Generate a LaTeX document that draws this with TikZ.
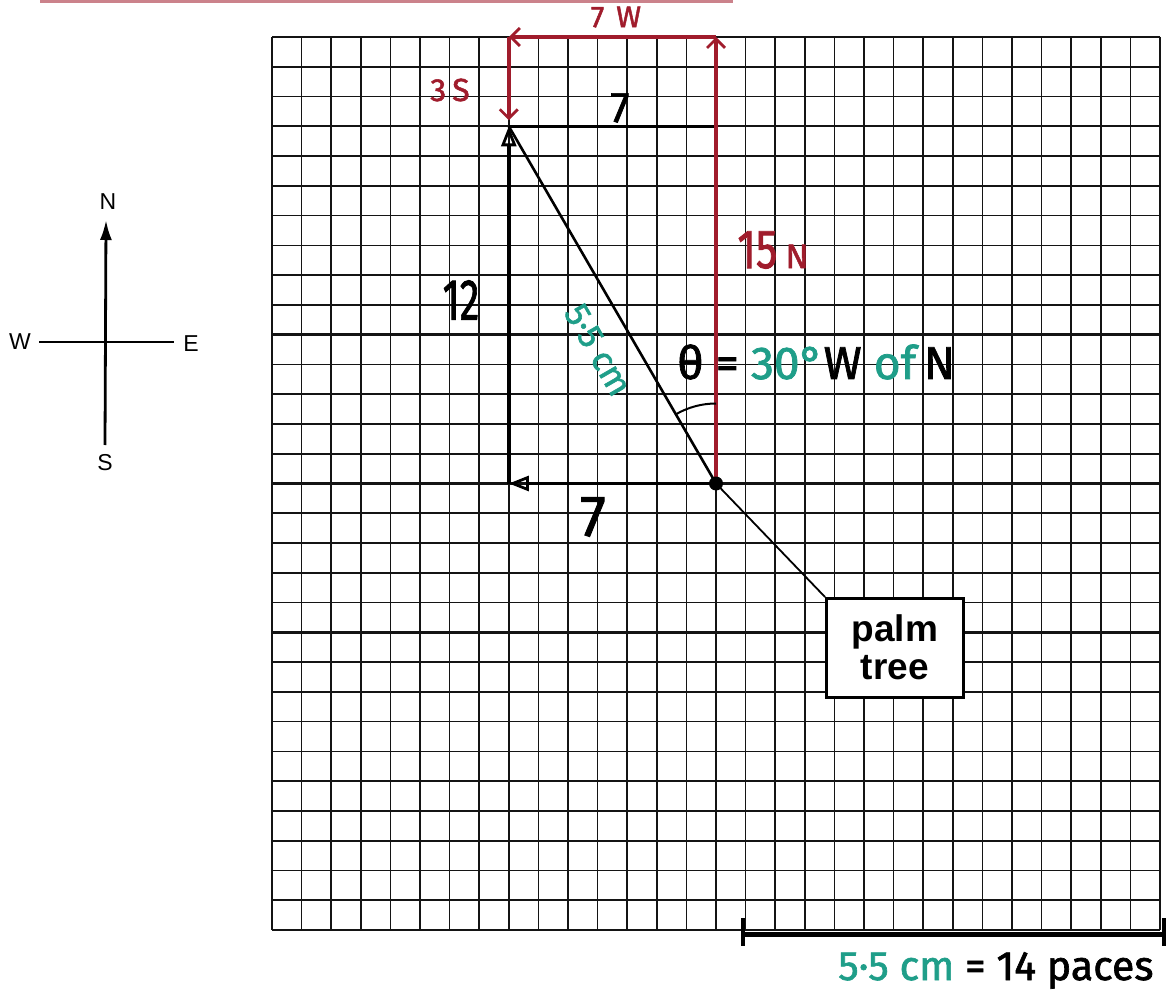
\documentclass[tikz,border=0pt]{standalone}
\usepackage{fontspec}
\usepackage{graphicx}
\setmainfont{Liberation Sans}
\newfontfamily\handfont[FakeBold=1.6]{Fira Sans}
\usetikzlibrary{arrows.meta}
\definecolor{pen}{HTML}{A01C2C}
\definecolor{tealpen}{HTML}{1F9E89}
\definecolor{gridc}{HTML}{141414}
\newcommand{\hw}[2]{{\handfont\fontsize{#1}{#1}\selectfont #2}}
\tikzset{
  gridminor/.style={gridc, line width=1.6},
  gridmajor/.style={gridc, line width=2.4},
  redvec/.style={pen, line width=3.5, -{Straight Barb[length=9pt,width=18pt,line width=2.8pt]}},
  blackvec/.style={black, line width=3.5, -{Triangle[open,length=20pt,width=15pt,line width=2.8pt]}},
  compassline/.style={black, line width=2.8},
  compasslabel/.style={font=\fontsize{23}{23}\selectfont, inner sep=0pt},
  handlabel/.style={inner sep=0pt},
}
\begin{document}
\begin{tikzpicture}[x=1pt,y=-1pt]
\useasboundingbox (0,0) rectangle (1168,995);
\fill[white] (0,0) rectangle (1168,995);

% cut-off red underline at the very top
\coordinate (u1) at (40,1.5);
\coordinate (u2) at (733,1.5);
\draw[pen!55, line width=2.5] (u1) -- (u2);

% grid 30 x 30
\foreach \i in {0,...,30}{
  \pgfmathsetmacro\xx{272+29.6*\i}
  \draw[gridminor] (\xx,37) -- (\xx,930);
  \pgfmathsetmacro\yy{930-29.7667*\i}
  \draw[gridminor] (272,\yy) -- (1160,\yy);
}
\foreach \i in {0,5,...,30}{
  \pgfmathsetmacro\xx{272+29.6*\i}
  \draw[gridmajor] (\xx,37) -- (\xx,930);
  \pgfmathsetmacro\yy{930-29.7667*\i}
  \draw[gridmajor] (272,\yy) -- (1160,\yy);
}

% key points
\coordinate (P) at (716,483.5);
\coordinate (T) at (716,37);
\coordinate (A) at (508.8,37);
\coordinate (B) at (508.8,126.3);
\coordinate (Bq) at (716,126.3);
\coordinate (C) at (508.8,483.5);

% black construction
\draw[black, line width=2.6] (B) -- (Bq);
\draw[blackvec] (P) -- (C);
\draw[blackvec] (C) -- (B);
\draw[black, line width=2.6] (P) -- (B);

% red path
\draw[redvec] (P) -- (T);
\draw[redvec] (T) -- (A);
\draw[redvec] (A) -- ([shift={(0,-6)}]B);

% angle arc
\draw[black, line width=2] ([shift={(0,-80)}]P) arc[start angle=-90, end angle=-120, radius=80];

% palm tree point and box
\fill[black] (P) circle (7);
\node[draw, line width=2.5, fill=white, font=\bfseries\fontsize{37}{38}\selectfont,
      align=center, minimum width=137, minimum height=99, anchor=north west, inner sep=0pt]
      (box) at (825,597) {palm\\tree};
\draw[black, line width=1.8] (P) -- (box.north west);

% labels
\node[handlabel, text=pen] (l7w) at (616,17) {\hw{30}{7\hspace{12pt}W}};
\node[handlabel, text=pen] (l3s) at (450,90) {\hw{32}{3\hspace{6pt}S}};
\node[handlabel] (l7a) at (620,108) {\hw{43}{7}};
\node[handlabel, text=pen] (l15n) at (773,250) {\hw{55}{\scalebox{0.78}[1]{15}}\hspace{8pt}\hw{34}{N}};
\node[handlabel] (l12) at (461,300) {\hw{58}{\scalebox{0.68}[1]{12}}};
\node[handlabel, text=tealpen, rotate=-60] (l55) at (598,350) {\hw{35}{5·5 cm}};
\node[handlabel, anchor=west] (ltheta) at (677,362)
  {\hw{46}{θ = \textcolor{tealpen}{30°}W \textcolor{tealpen}{of}\,N}};
\node[handlabel] (l7b) at (593,517) {\hw{58}{7}};

% compass
\coordinate (cN) at (106,220);
\coordinate (cS) at (105,445);
\coordinate (cW) at (39,342);
\coordinate (cE) at (174,342);
\draw[compassline, -{Latex[length=20pt,width=12pt]}] (cS) -- (cN);
\draw[compassline] (cW) -- (cE);
\node[compasslabel] (lN) at (108,202) {N};
\node[compasslabel] (lS) at (105,463) {S};
\node[compasslabel] (lW) at (20,342) {W};
\node[compasslabel] (lE) at (191,344) {E};

% scale bar
\coordinate (sL) at (743,934);
\coordinate (sR) at (1164,934);
\draw[black, line width=5] (sL) -- (sR);
\draw[black, line width=4] ([shift={(0,-16)}]sL) -- ([shift={(0,12)}]sL);
\draw[black, line width=4] ([shift={(0,-16)}]sR) -- ([shift={(0,12)}]sR);
\node[handlabel, anchor=base west] (lscale) at (838,980)
  {\hw{41}{\textcolor{tealpen}{5·5 cm} = 14 paces}};
\end{tikzpicture}
\end{document}
